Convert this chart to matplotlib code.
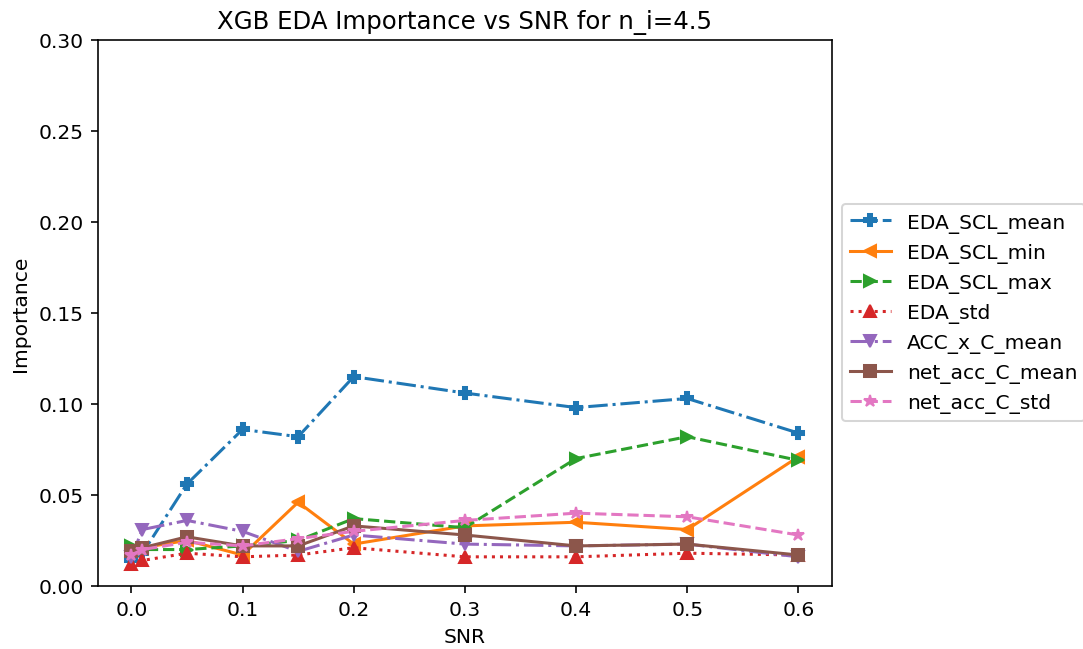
import numpy as np
import matplotlib
matplotlib.use('Agg')
import matplotlib.pyplot as plt

snr = [0.0, 0.01, 0.05, 0.1, 0.15, 0.2, 0.3, 0.4, 0.5, 0.6]

eda_scl_mean = [0.014, 0.018, 0.056, 0.086, 0.082, 0.115, 0.106, 0.098, 0.103, 0.084]
eda_scl_min = [0.020, 0.021, 0.025, 0.017, 0.046, 0.023, 0.033, 0.035, 0.031, 0.071]
eda_scl_max = [0.022, 0.020, 0.020, 0.022, 0.025, 0.037, 0.032, 0.070, 0.082, 0.069]
eda_std = [0.012, 0.014, 0.018, 0.016, 0.017, 0.021, 0.016, 0.016, 0.018, 0.017]
acc_x_c_mean = [0.016, 0.031, 0.036, 0.030, 0.019, 0.028, 0.023, 0.022, 0.023, 0.016]
net_acc_c_mean = [0.019, 0.021, 0.027, 0.022, 0.022, 0.033, 0.028, 0.022, 0.023, 0.017]
net_acc_c_std = [0.017, 0.020, 0.024, 0.022, 0.026, 0.030, 0.036, 0.040, 0.038, 0.028]

series = [
    ('EDA_SCL_mean', eda_scl_mean, 'P', '-.'),
    ('EDA_SCL_min', eda_scl_min, '<', '-'),
    ('EDA_SCL_max', eda_scl_max, '>', '--'),
    ('EDA_std', eda_std, '^', ':'),
    ('ACC_x_C_mean', acc_x_c_mean, 'v', '-.'),
    ('net_acc_C_mean', net_acc_c_mean, 's', '-'),
    ('net_acc_C_std', net_acc_c_std, '*', '--'),
]

fig = plt.figure(figsize=(1083 / 146, 650 / 146), dpi=146)
ax = fig.add_axes([0.0905, 0.097, 0.6775, 0.84])
for name, vals, m, ls in series:
    ax.plot(snr, vals, marker=m, linestyle=ls, label=name)

ax.set_ylim(0, 0.3)
ax.set_xlabel('SNR')
ax.set_ylabel('Importance')
ax.set_title('XGB EDA Importance vs SNR for n_i=4.5')
ax.legend(loc='center left', bbox_to_anchor=(1.0, 0.5))
fig.savefig('out.png', dpi=146)
